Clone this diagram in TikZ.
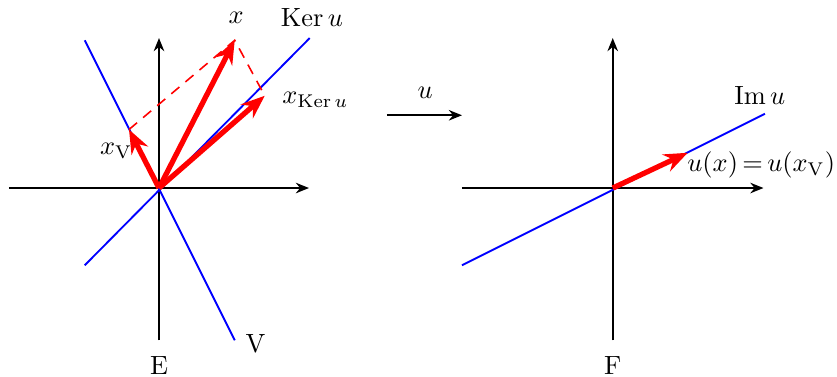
\documentclass[tikz,border=0pt]{standalone}
\usepackage{amsmath}
\usetikzlibrary{arrows.meta}
\tikzset{
  axis/.style={line width=0.6pt,-{Stealth[length=5pt,width=4pt]}},
  subsp/.style={blue,line width=0.7pt},
  vec/.style={red,line width=2pt,-{Stealth[length=9pt,width=7pt,inset=3pt]}},
  proj/.style={red,line width=0.6pt,dash pattern=on 4pt off 3pt},
  lbl/.style={font=\normalsize},
}
\begin{document}
\begin{tikzpicture}
\useasboundingbox (-2.12,-2.507) rectangle (9.04,2.507);
% left
\coordinate (O) at (0,0);
\coordinate (xl) at (-2,0); \coordinate (xr) at (2,0);
\coordinate (yb) at (0,-2.03); \coordinate (yt) at (0,2);
\draw[axis] (xl) -- (xr);
\draw[axis] (yb) -- (yt);
\coordinate (K1) at (-0.99,-1.03); \coordinate (K2) at (2.01,2.0);
\coordinate (V1) at (-0.99,1.97); \coordinate (V2) at (1.01,-2.03);
\draw[subsp] (K1) -- (K2);
\draw[subsp] (V1) -- (V2);
\coordinate (X) at (1.01,1.97);
\coordinate (XV) at (-0.4,0.78);
\coordinate (XK) at (1.41,1.23);
\draw[proj] (XV) -- (X) -- (XK);
\draw[vec] (O) -- (X);
\draw[vec] (O) -- (XV);
\draw[vec] (O) -- (XK);
\node[lbl] (lx) at (1.03,2.27) {$x$};
\node[lbl] (lker) at (2.04,2.27) {$\operatorname{Ker} u$};
\node[lbl,anchor=west] (lxk) at (1.52,1.17) {$x_{\operatorname{Ker} u}$};
\node[lbl] (lxv) at (-0.57,0.5) {$x_{\mathrm{V}}$};
\node[lbl] (lV) at (1.29,-2.07) {$\mathrm{V}$};
\node[lbl] (lE) at (0,-2.36) {$\mathrm{E}$};
% middle arrow
\coordinate (A1) at (3.04,0.97); \coordinate (A2) at (4.04,0.97);
\draw[axis] (A1) -- (A2);
\node[lbl] (lu) at (3.55,1.27) {$u$};
% right
\coordinate (P) at (6.05,0);
\coordinate (pl) at (4.04,0); \coordinate (pr) at (8.06,0);
\coordinate (pb) at (6.05,-2.03); \coordinate (pt) at (6.05,2);
\draw[axis] (pl) -- (pr);
\draw[axis] (pb) -- (pt);
\coordinate (I1) at (4.04,-1.03); \coordinate (I2) at (8.08,0.99);
\draw[subsp] (I1) -- (I2);
\coordinate (UX) at (7.05,0.47);
\draw[vec] (P) -- (UX);
\node[lbl] (lim) at (8.01,1.24) {$\operatorname{Im} u$};
\node[lbl,anchor=east,inner sep=0.5pt] (lux) at (9.04,0.31) {$u(x)\,{=}\,u(x_{\mathrm{V}})$};
\node[lbl] (lF) at (6.05,-2.36) {$\mathrm{F}$};
\end{tikzpicture}
\end{document}
